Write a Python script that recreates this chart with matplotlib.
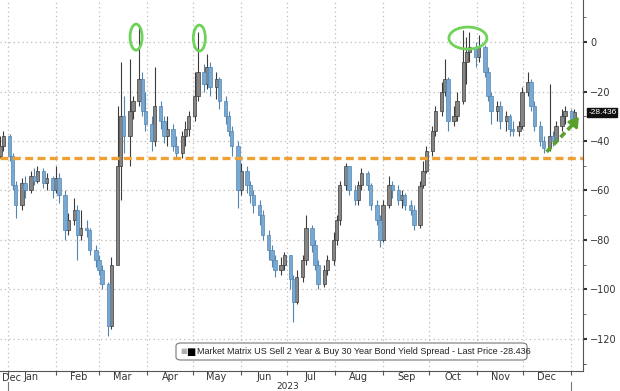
import numpy as np
import pandas as pd
import matplotlib
matplotlib.use("Agg")
import matplotlib.pyplot as plt
import matplotlib.dates as mdates
import matplotlib.transforms as mtransforms
from matplotlib.patches import Ellipse, FancyBboxPatch

# bars every 2 business days, from late Dec 2022 to early Jan 2024
start_date = "2022-12-27"
first_open = -46

close = [-42, -38, -46, -58, -66, -57, -60, -54, -56, -52,
         -57, -55, -60, -55, -62, -76, -72, -68, -78, -75,
         -76, -84, -88, -92, -98, -115, -90, -50, -30, -38,
         -28, -24, -15, -28, -33, -40, -26, -32, -38, -35,
         -42, -45, -38, -35, -30, -22, -12, -17, -10, -18,
         -15, -24, -30, -36, -42, -60, -52, -58, -62, -66,
         -70, -78, -84, -88, -92, -90, -86, -96, -105, -95,
         -88, -75, -82, -90, -98, -92, -88, -80, -72, -58,
         -50, -60, -64, -58, -53, -58, -66, -72, -80, -66,
         -58, -60, -64, -62, -66, -68, -74, -58, -52, -44,
         -36, -28, -20, -15, -32, -30, -24, -8, -4, -2,
         -6, -2, -12, -22, -28, -26, -32, -30, -35, -36,
         -34, -20, -16, -26, -34, -40, -43, -38, -40, -34,
         -30, -28, -31, -28.436]
high = [-38, -36, -37, -45, -56, -55, -54, -52, -51, -50,
        -51, -53, -54, -50, -53, -60, -69, -63, -66, -68,
        -72, -75, -82, -86, -90, -97, -87, -26, -8, -22,
        -7, -22, 6, -12, -20, -30, -10, -24, -30, -30,
        -33, -38, -36, -32, -28, -12, 4, -9, -5, -8,
        -12, -14, -22, -28, -34, -40, -49, -50, -56, -60,
        -64, -68, -76, -82, -86, -87, -85, -86, -94, -92,
        -86, -70, -74, -80, -88, -90, -86, -77, -70, -56,
        -49, -50, -58, -56, -51, -52, -57, -64, -70, -64,
        -54, -56, -58, -60, -61, -64, -66, -56, -48, -42,
        -34, -26, -16, -7, -14, -26, -20, 5, 2, 4,
        0, 3, -1, -10, -20, -24, -24, -28, -29, -32,
        -32, -18, -12, -15, -24, -32, -38, -17, -36, -32,
        -27, -26, -27, -27]
low = [-47, -44, -48, -60, -71, -68, -63, -61, -58, -57,
       -59, -60, -63, -61, -65, -80, -78, -74, -88, -80,
       -79, -86, -91, -94, -100, -119, -116, -88, -64, -45,
       -50, -31, -26, -30, -36, -44, -42, -35, -41, -42,
       -44, -47, -47, -42, -38, -32, -24, -20, -19, -22,
       -23, -27, -33, -38, -46, -67, -62, -61, -65, -69,
       -74, -80, -88, -91, -95, -94, -92, -100, -113, -106,
       -97, -90, -85, -92, -100, -99, -94, -90, -82, -74,
       -60, -62, -66, -66, -60, -60, -68, -74, -83, -81,
       -67, -63, -66, -67, -68, -70, -76, -75, -59, -53,
       -46, -38, -30, -22, -36, -34, -32, -25, -17, -8,
       -10, -8, -14, -24, -33, -32, -35, -36, -38, -38,
       -38, -35, -22, -28, -36, -42, -45, -44, -42, -41,
       -36, -33, -33, -32]

support_level = -47
last_price = -28.436
y_ticks = [0, -20, -40, -60, -80, -100, -120]
legend_text = "Market Matrix US Sell 2 Year & Buy 30 Year Bond Yield Spread - Last Price -28.436"

dates = pd.bdate_range(start_date, periods=len(close), freq="2B")
xd = mdates.date2num(dates)
o = np.array([first_open] + close[:-1], dtype=float)
c = np.array(close, dtype=float)
h = np.array(high, dtype=float)
l = np.array(low, dtype=float)
up = c >= o

fig = plt.figure(figsize=(6.2, 3.91), dpi=100)
ax = fig.add_axes([0, 20/391, 583/620, 371/391])

UP_COL = "#858585"
UP_EDGE = "#3c3c3c"
DN_COL = "#76a9d4"
DN_EDGE = "#5585ae"

ax.vlines(xd[up], l[up], h[up], color=UP_EDGE, lw=0.8, zorder=3)
ax.vlines(xd[~up], l[~up], h[~up], color=DN_EDGE, lw=0.8, zorder=3)
ax.bar(xd[up], (c - o)[up], bottom=o[up], width=2.2, color=UP_COL,
       edgecolor=UP_EDGE, lw=0.5, zorder=4)
ax.bar(xd[~up], (o - c)[~up], bottom=c[~up], width=2.2, color=DN_COL,
       edgecolor=DN_EDGE, lw=0.5, zorder=4)

# support line
ax.axhline(support_level, color="#eea236", lw=2.4, ls=(0, (2.4, 1.3)), zorder=5)

# limits
x0 = mdates.date2num(pd.Timestamp("2022-12-26 20:00"))
x1 = mdates.date2num(pd.Timestamp("2024-01-08 14:00"))
ax.set_xlim(x0, x1)
ax.set_ylim(-133, 17)

# grid / ticks
ax.xaxis.set_major_locator(mdates.MonthLocator())
ax.xaxis.set_major_formatter(plt.NullFormatter())
ax.xaxis.set_minor_locator(mdates.MonthLocator(bymonthday=16))
ax.xaxis.set_minor_formatter(mdates.DateFormatter("%b"))
ax.tick_params(axis="x", which="major", length=3, color="#555555")
ax.tick_params(axis="x", which="minor", length=0, labelsize=7, colors="#333333", pad=1)
ax.text(2/583, -0.006, "Dec", transform=ax.transAxes, fontsize=7, color="#333333",
        ha="left", va="top")

ax.yaxis.tick_right()
ax.set_yticks(y_ticks)
ax.set_yticks([v - 10 for v in y_ticks[1:]] + [10, -130], minor=True)
ax.tick_params(axis="y", which="major", length=3, width=1.5, color="#333333",
               labelsize=7, colors="#333333", pad=2)
ax.tick_params(axis="y", which="minor", length=2, width=0.6, color="#555555")

ax.grid(True, which="major", color="#bcbcbc", lw=0.9, ls=(0, (1, 2.5)))
for s in ["top", "left"]:
    ax.spines[s].set_visible(False)
for s in ["right", "bottom"]:
    ax.spines[s].set_color("#555555")
    ax.spines[s].set_linewidth(0.8)

# year label and year markers
blend = mtransforms.blended_transform_factory(ax.transData, ax.transAxes)
ax.text(mdates.date2num(pd.Timestamp("2023-07-01")), -0.029, "2023", transform=blend,
        fontsize=6.5, color="#333333", ha="center", va="top")
for yr in ["2023-01-01", "2024-01-01"]:
    xv = mdates.date2num(pd.Timestamp(yr))
    ax.plot([xv, xv], [-0.03, -0.06], transform=blend, color="#777777", lw=0.8,
            clip_on=False)

# green highlight ellipses
def day(s):
    return mdates.date2num(pd.Timestamp(s))

ell_style = dict(fill=False, ec="#6fd35a", lw=2.0, zorder=6)
ax.add_patch(Ellipse((day("2023-03-25"), 2), 7.8, 10.5, **ell_style))
ax.add_patch(Ellipse((day("2023-05-05"), 1.6), 7.8, 10.5, **ell_style))
ax.add_patch(Ellipse((day("2023-10-26"), 1.6), 24.6, 8.9, **ell_style))

# green dashed arrow
ax.plot([day("2023-12-16"), day("2024-01-04")], [-44.4, -32.0], color="#5aa02c",
        lw=2.6, ls=(0, (1.8, 1.0)), zorder=7)
ax.annotate("", xy=(day("2024-01-07"), -29.3), xytext=(day("2024-01-03"), -32.6),
            arrowprops=dict(arrowstyle="-|>,head_width=0.35,head_length=0.55",
                            color="#5aa02c", lw=2.0), zorder=7)

# last price tag
tagtr = mtransforms.blended_transform_factory(ax.transAxes, ax.transData)
ax.text(1.009, last_price, "-28.436", transform=tagtr, fontsize=6, color="white",
        family="Liberation Sans", ha="left", va="center", clip_on=False,
        bbox=dict(boxstyle="square,pad=0.12", fc="#111111", ec="#111111"))

# legend box
ax.add_patch(FancyBboxPatch((176/583, 1 - 360/371), (527 - 176)/583, 17/371,
                            boxstyle="round,pad=0,rounding_size=0.008",
                            transform=ax.transAxes, fc="white", ec="#777777", lw=0.8,
                            zorder=8))
ax.text(197/583, 1 - 351.5/371, legend_text, transform=ax.transAxes,
        fontsize=6.5, family="Liberation Sans", color="#222222", ha="left", va="center",
        zorder=9)
ax.text(180/583, 1 - 351.5/371, "■", transform=ax.transAxes, fontsize=5,
        color="#b0b0b0", ha="left", va="center", zorder=9)
ax.text(186/583, 1 - 351.5/371, "■", transform=ax.transAxes, fontsize=7,
        color="#000000", ha="left", va="center", zorder=9)

fig.savefig("out.png", dpi=100)
